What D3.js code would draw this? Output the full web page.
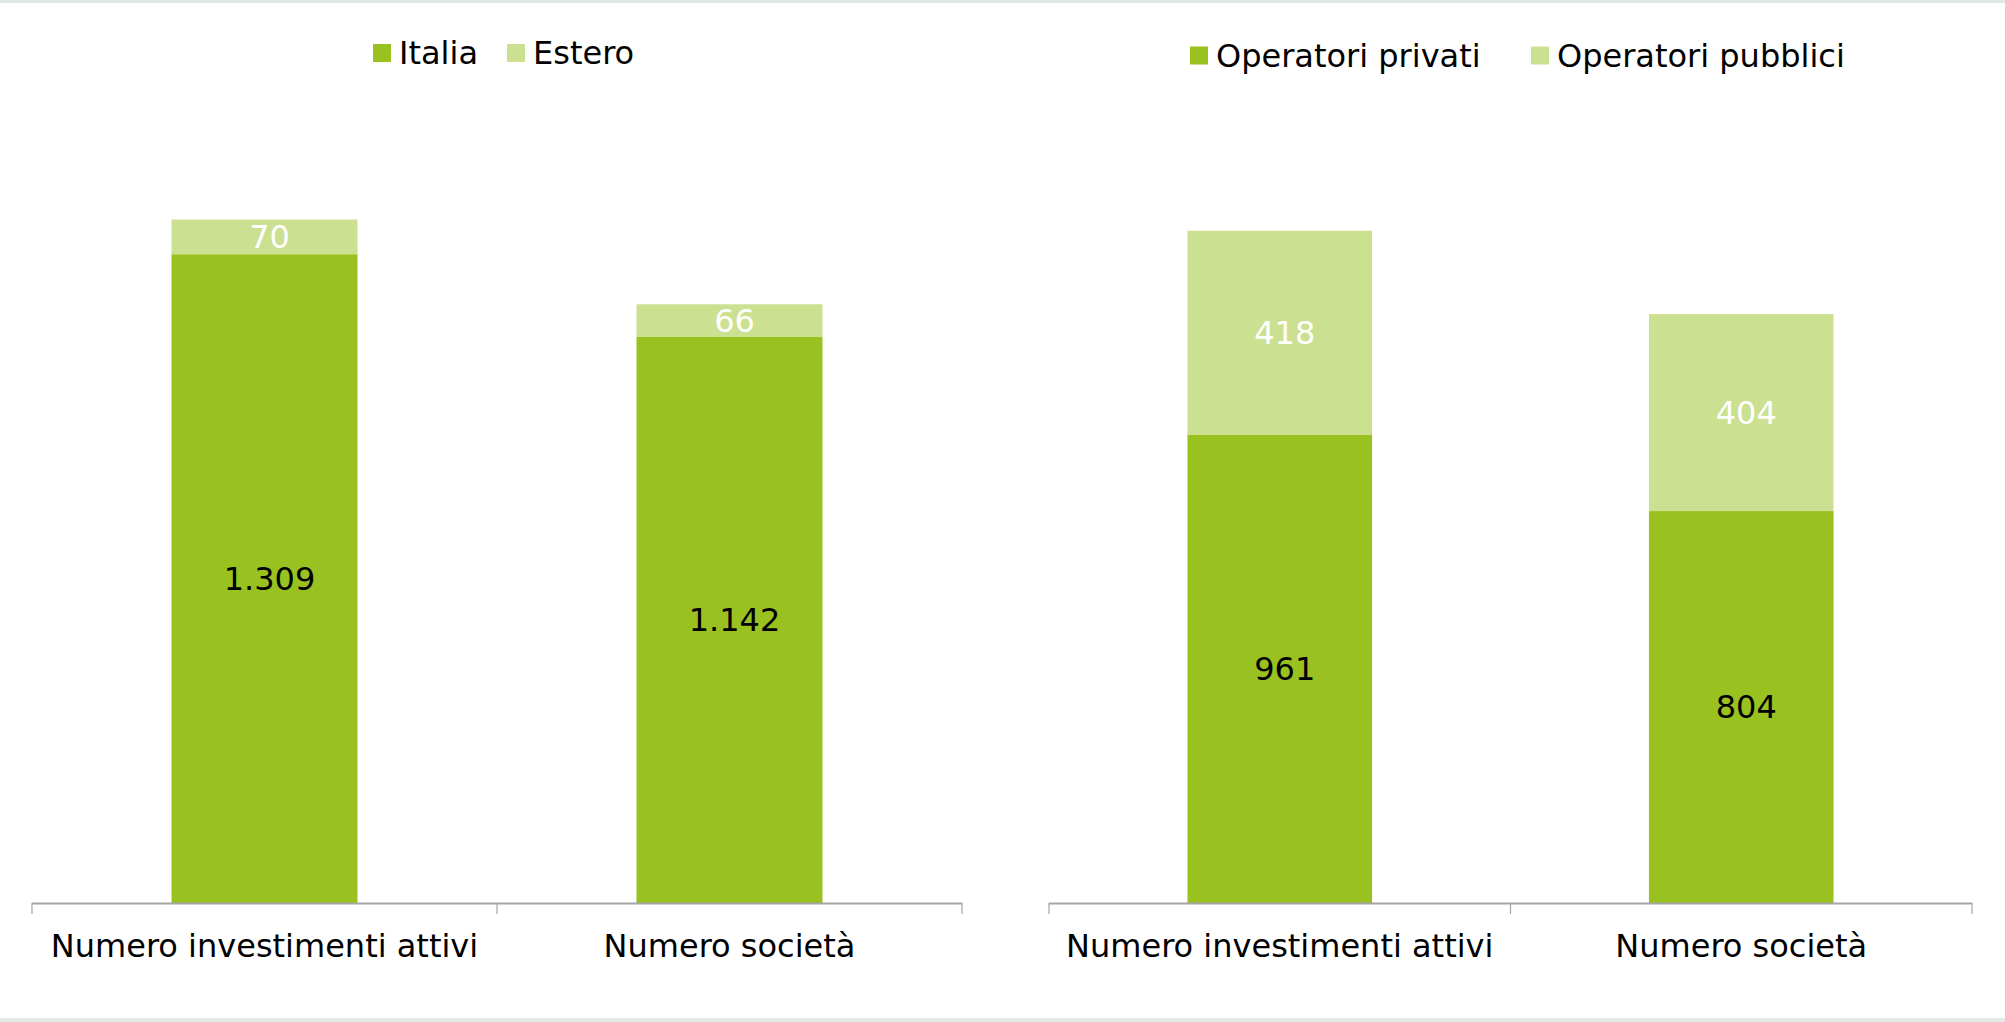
<!DOCTYPE html>
<html>
<head>
<meta charset="utf-8">
<script src="https://cdn.jsdelivr.net/npm/d3@7"></script>
<style>
  html, body { margin: 0; padding: 0; background: #fff; }
  svg { display: block; }
  text { font-family: Verdana, "DejaVu Sans", sans-serif; }
</style>
</head>
<body>
<svg id="chart" width="2005" height="1022"></svg>
<script>
// ---- Data ----
const categories = ["Numero investimenti attivi", "Numero società"];

const leftSeriesNames = ["Italia", "Estero"];
const leftItalia = [1309, 1142];
const leftEstero = [70, 66];

const rightSeriesNames = ["Operatori privati", "Operatori pubblici"];
const rightPrivati = [961, 804];
const rightPubblici = [418, 404];

const colors = ["#99C221", "#CCE091"];
const labelColors = ["#000000", "#FFFFFF"];

// ---- Drawing ----
const svg = d3.select("#chart");
const FONT = 32;

// faint frame
svg.append("rect").attr("x", 0).attr("y", 0).attr("width", 2005).attr("height", 3).attr("fill", "#dfe6e4");
svg.append("rect").attr("x", 0).attr("y", 1018).attr("width", 2005).attr("height", 4).attr("fill", "#e3e9e7");

function drawPanel(cfg) {
  const g = svg.append("g");
  const x = d3.scaleBand().domain(categories).range([cfg.x0, cfg.x1]).paddingInner(0).paddingOuter(0);
  const y = d3.scaleLinear().domain([0, 1600]).range([cfg.base, cfg.top]);
  const barW = x.bandwidth() * 0.4;

  const rows = categories.map((c, i) => ({ cat: c, vals: [cfg.s1[i], cfg.s2[i]] }));
  const stack = d3.stack().keys([0, 1]).value((d, k) => d.vals[k])(rows);

  stack.forEach((layer, li) => {
    layer.forEach((seg, i) => {
      const cx = x(rows[i].cat) + x.bandwidth() / 2;
      const yTop = y(seg[1]), yBot = y(seg[0]);
      g.append("rect")
        .attr("x", cx - barW / 2)
        .attr("y", yTop)
        .attr("width", barW)
        .attr("height", yBot - yTop)
        .attr("fill", colors[li]);
      g.append("text")
        .attr("x", cx + 5)
        .attr("y", (yTop + yBot) / 2)
        .attr("text-anchor", "middle")
        .attr("dominant-baseline", "central")
        .attr("font-size", FONT)
        .attr("fill", labelColors[li])
        .text(d3.format(",")(rows[i].vals[li]).replace(/,/g, "."));
    });
  });

  // axis
  const axis = d3.axisBottom(x).tickSize(0).tickFormat("");
  const ag = g.append("g").attr("transform", `translate(0,${cfg.base})`).call(axis);
  ag.select(".domain").remove();
  g.append("line").attr("x1", cfg.x0).attr("x2", cfg.x1).attr("y1", cfg.base + 0.5).attr("y2", cfg.base + 0.5)
    .attr("stroke", "#A6A6A6").attr("stroke-width", 2);
  const tickXs = [cfg.x0, x(categories[1]), cfg.x1];
  tickXs.forEach(tx => {
    g.append("line").attr("x1", tx).attr("x2", tx).attr("y1", cfg.base).attr("y2", cfg.base + 11)
      .attr("stroke", "#A6A6A6").attr("stroke-width", 1.2);
  });
  categories.forEach(c => {
    g.append("text")
      .attr("x", x(c) + x.bandwidth() / 2)
      .attr("y", 946)
      .attr("text-anchor", "middle")
      .attr("dominant-baseline", "central")
      .attr("font-size", FONT)
      .attr("fill", "#000")
      .text(c);
  });

  // legend
  cfg.legend.forEach((lg, i) => {
    g.append("rect").attr("x", lg.x).attr("y", cfg.legY - 9).attr("width", 18).attr("height", 18).attr("fill", colors[i]);
    g.append("text").attr("x", lg.x + 26).attr("y", cfg.legY)
      .attr("dominant-baseline", "central")
      .attr("font-size", FONT).attr("fill", "#000").text(cfg.names[i]);
  });
}

drawPanel({
  x0: 32, x1: 962, base: 903, top: 110,
  s1: leftItalia, s2: leftEstero, names: leftSeriesNames,
  legY: 53, legend: [{ x: 373 }, { x: 507 }]
});

drawPanel({
  x0: 1049, x1: 1972, base: 903, top: 123,
  s1: rightPrivati, s2: rightPubblici, names: rightSeriesNames,
  legY: 55.5, legend: [{ x: 1190 }, { x: 1531 }]
});
</script>
</body>
</html>
